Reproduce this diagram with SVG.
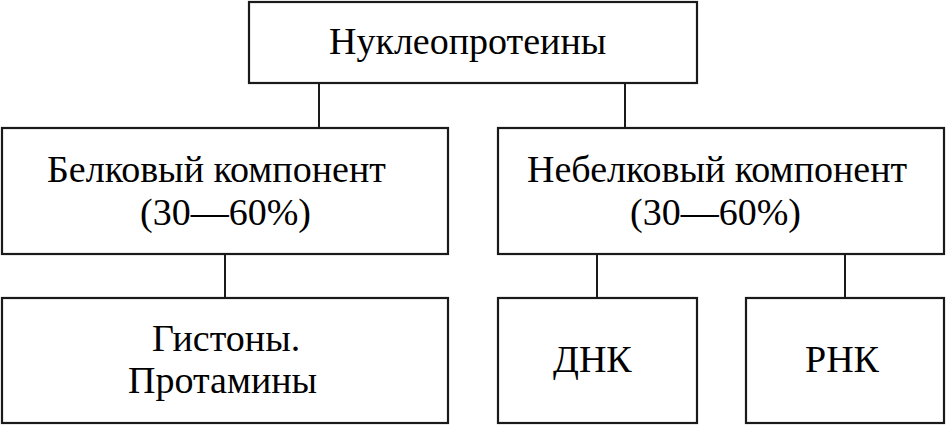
<svg xmlns="http://www.w3.org/2000/svg" width="946" height="426" viewBox="0 0 946 426">
<defs>
<style>
.box{fill:#fff;stroke:#1a1a1a;stroke-width:2.2}
</style>
</defs>
<rect width="946" height="426" fill="#fff"/>
<g id="connectors" stroke="#1a1a1a" stroke-width="2" fill="none">
<line x1="319" y1="83" x2="319" y2="128"/>
<line x1="625" y1="83" x2="625" y2="128"/>
<line x1="225" y1="254" x2="225" y2="298"/>
<line x1="597" y1="254" x2="597" y2="298"/>
<line x1="845" y1="254" x2="845" y2="298"/>
</g>
<g id="n-root">
<rect class="box" x="249" y="2" width="448" height="81"/>
<text font-family="Liberation Serif" font-size="38" x="329" y="54">Нуклеопротеины</text>
</g>
<g id="n-protein">
<rect class="box" x="2" y="128" width="446" height="126"/>
<text font-family="Liberation Serif" font-size="38" x="47" y="182">Белковый компонент</text>
<text font-family="Liberation Serif" font-size="38" x="140" y="225">(30—60%)</text>
</g>
<g id="n-nonprotein">
<rect class="box" x="498" y="128" width="446" height="126"/>
<text font-family="Liberation Serif" font-size="38" x="527" y="182">Небелковый компонент</text>
<text font-family="Liberation Serif" font-size="38" x="630" y="225">(30—60%)</text>
</g>
<g id="n-histones">
<rect class="box" x="2" y="298" width="446" height="125"/>
<text font-family="Liberation Serif" font-size="38" x="152" y="351">Гистоны.</text>
<text font-family="Liberation Serif" font-size="38" x="128" y="393">Протамины</text>
</g>
<g id="n-dna">
<rect class="box" x="498" y="298" width="199" height="125"/>
<text font-family="Liberation Serif" font-size="38" x="553" y="372">ДНК</text>
</g>
<g id="n-rna">
<rect class="box" x="746" y="298" width="198" height="125"/>
<text font-family="Liberation Serif" font-size="38" x="805" y="372">РНК</text>
</g>
</svg>
